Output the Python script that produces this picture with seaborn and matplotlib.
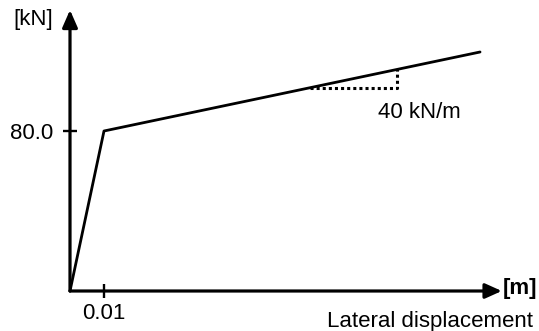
import numpy as np
import pandas as pd
import matplotlib
matplotlib.use("Agg")
import matplotlib.pyplot as plt
from matplotlib.patches import ArrowStyle
import seaborn as sns

# Bilinear force-displacement curve
displacement = [0.0, 0.01, 0.1206]      # [m]
force = [0.0, 80.0, 119.5]              # [kN]

# Tick values and labels
x_ticks = [0.01]
x_tick_labels = ["0.01"]
y_ticks = [80.0]
y_tick_labels = ["80.0"]

# Post-yield stiffness annotation
stiffness_label = "40 kN/m"
slope_x = [0.0706, 0.0962]              # horizontal leg of the slope marker

sns.set_theme(style="white")
plt.rcParams["font.family"] = ["Liberation Sans", "DejaVu Sans"]

fig = plt.figure(figsize=(5.39, 3.31), dpi=100)
ax = fig.add_axes([0, 0, 1, 1])
ax.set_facecolor("white")

df = pd.DataFrame({"Lateral displacement": displacement, "Force": force})
sns.lineplot(data=df, x="Lateral displacement", y="Force", ax=ax,
             color="black", lw=2.0, zorder=5, legend=False)

ax.set_xlim(-0.020588, 0.137941)
ax.set_ylim(-20, 145.5)

# Axis arrows
ax_lw = 2.3
head_y = ArrowStyle("-|>", head_length=10.5, head_width=4.6)
head_x = ArrowStyle("-|>", head_length=10.0, head_width=4.5)
ax.annotate("", xy=(0, 140.5), xytext=(0, 0),
            arrowprops=dict(arrowstyle=head_y, lw=ax_lw, color="black",
                            shrinkA=0, shrinkB=0, mutation_scale=1))
ax.annotate("", xy=(0.127, 0), xytext=(0, 0),
            arrowprops=dict(arrowstyle=head_x, lw=ax_lw, color="black",
                            shrinkA=0, shrinkB=0, mutation_scale=1))

# Spines sit on the zero lines so the ticks cross the axes
for side in ["left", "bottom"]:
    ax.spines[side].set_position(("data", 0))
    ax.spines[side].set_color("none")
for side in ["right", "top"]:
    ax.spines[side].set_visible(False)

ax.set_xticks(x_ticks)
ax.set_xticklabels(x_tick_labels)
ax.set_yticks(y_ticks)
ax.set_yticklabels(y_tick_labels)
ax.tick_params(axis="both", bottom=True, left=True, top=False, right=False,
               direction="inout", length=10, width=1.7,
               color="black", labelsize=16, labelcolor="black")
ax.tick_params(axis="x", pad=3.8)
ax.tick_params(axis="y", pad=7.0)
ax.set_xlabel("")
ax.set_ylabel("")
ax.grid(False)

# Axis units and title
ax.text(-0.01088, 132.75, "[kN]", ha="center", va="baseline",
        fontsize=16, color="black")
ax.text(0.12735, -1.3, "[m]", ha="left", va="baseline",
        fontsize=16, fontweight="bold", color="black")
ax.text(0.13618, -18.0, "Lateral displacement", ha="right", va="baseline",
        fontsize=16, color="black")

# Slope marker on the post-yield branch
y_a = np.interp(slope_x[0], displacement, force)
y_b = np.interp(slope_x[1], displacement, force)
ax.plot([slope_x[0], slope_x[1], slope_x[1]], [y_a, y_a, y_b],
        color="black", lw=2.2, linestyle=(0, (1, 1)), zorder=4)
ax.text(0.0906, 86.5, stiffness_label, ha="left", va="baseline",
        fontsize=16, color="black")

fig.savefig("out.png", dpi=100)
